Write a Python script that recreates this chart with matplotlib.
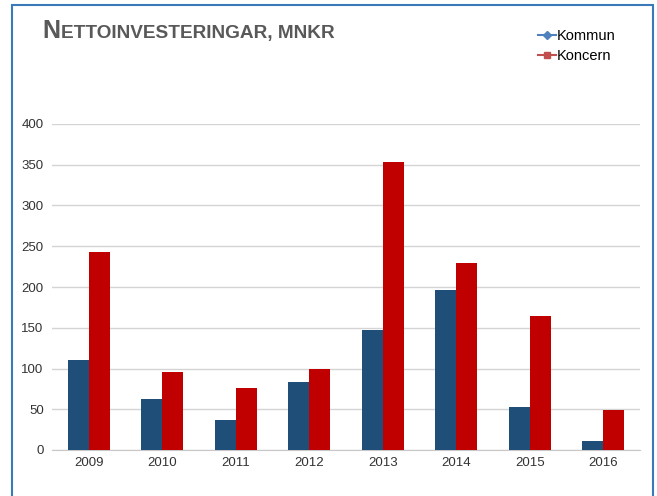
import numpy as np
import matplotlib.pyplot as plt
from matplotlib.patches import Rectangle
from matplotlib.lines import Line2D

# data
years = ['2009', '2010', '2011', '2012', '2013', '2014', '2015', '2016']
kommun = [110, 62, 37, 84, 147, 196, 53, 11]
koncern = [243, 96, 76, 100, 353, 229, 165, 49]
yTicks = [0, 50, 100, 150, 200, 250, 300, 350, 400]

plt.rcParams['font.family'] = ['Liberation Sans', 'DejaVu Sans']

fig = plt.figure(figsize=(6.57, 4.96), dpi=100)
fig.patch.set_facecolor('white')

# blue frame round the whole chart
fig.patches.append(Rectangle((12/657, -0.01), 641/657, 1 - 5/496 + 0.01,
                             transform=fig.transFigure, fill=False,
                             edgecolor='#3a7ab8', linewidth=1.5))

ax = fig.add_axes([52/657, 1 - 450/496, 588/657, 326/496])
x = np.arange(len(years))
w = 0.285
ax.bar(x - w/2, kommun, w, color='#1f4e79', zorder=3)
ax.bar(x + w/2, koncern, w, color='#c00000', zorder=3)

ax.set_xlim(-0.5, len(years) - 0.5)
ax.set_ylim(0, 400)
ax.set_yticks(yTicks)
ax.set_xticks(x)
ax.set_xticklabels(years)
ax.tick_params(axis='both', length=0, labelsize=9.5, colors='#333333')
ax.tick_params(axis='y', pad=6)
ax.tick_params(axis='x', pad=5)
ax.grid(axis='y', color='#d4d4d4', linewidth=1, zorder=0)
for s in ['top', 'right', 'left']:
    ax.spines[s].set_visible(False)
ax.spines['bottom'].set_color('#c8c8c8')

# title in small caps: a big first letter, the rest smaller
t1 = fig.text(42/657, 1 - 38/496, 'N', fontsize=18, fontweight='bold',
              color='#595959', va='baseline', ha='left')
fig.canvas.draw()
bb = t1.get_window_extent()
fig.text(bb.x1/fig.bbox.width + 0.001, 1 - 38/496, 'ETTOINVESTERINGAR, MNKR',
         fontsize=13.7, fontweight='bold', color='#595959', va='baseline', ha='left')

# legend with line markers
handles = [Line2D([], [], color='#4f81bd', marker='D', markersize=4, linewidth=1.5),
           Line2D([], [], color='#c0504d', marker='s', markersize=5, linewidth=1.5)]
fig.legend(handles, ['Kommun', 'Koncern'], loc='upper left',
           bbox_to_anchor=(531/657, 1 - 22/496), frameon=False, fontsize=10.5,
           handlelength=1.2, handletextpad=0.1, labelspacing=0.4, borderpad=0)

plt.savefig('out.png', dpi=100)
